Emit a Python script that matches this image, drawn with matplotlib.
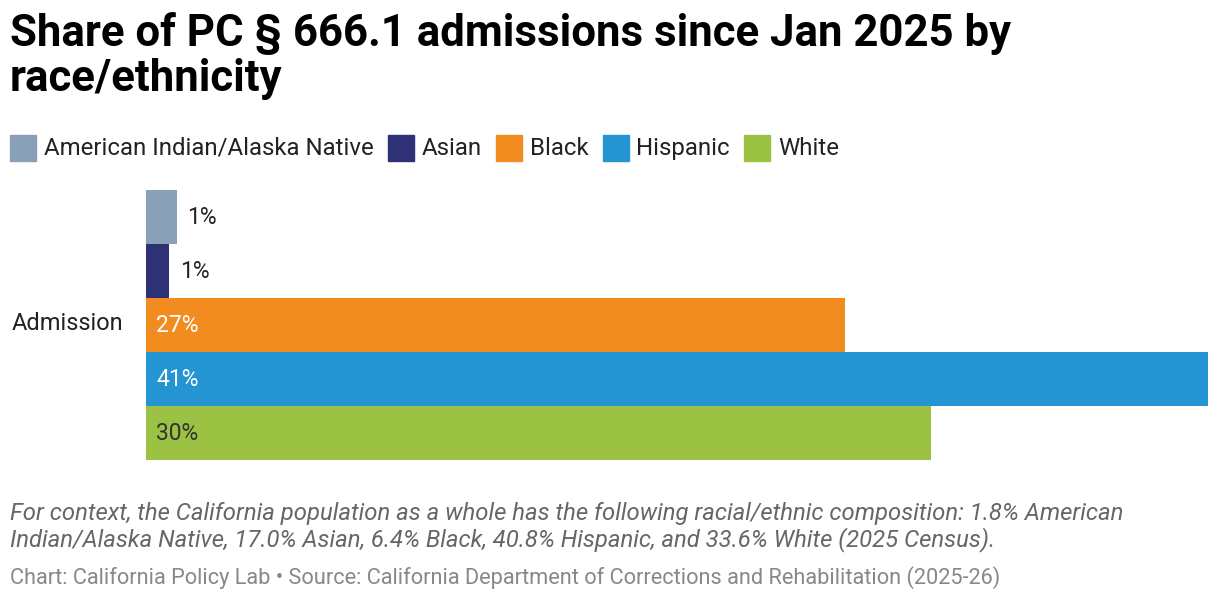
import matplotlib.pyplot as plt
from matplotlib.patches import Rectangle

plt.rcParams['font.family'] = ['Roboto', 'DejaVu Sans']

# data
groups = ['American Indian/Alaska Native', 'Asian', 'Black', 'Hispanic', 'White']
shares = [1.2, 0.9, 27.0, 41.0, 30.3]
colors = ['#8aa0b8', '#2e3175', '#f28c1f', '#2494d2', '#9bc242']
label_colors = ['#222222', '#222222', 'white', 'white', '#333333']

fig = plt.figure(figsize=(12.2, 6.02), dpi=100)

# title
fig.text(10/1220, 1 - 12/602, 'Share of PC § 666.1 admissions since Jan 2025 by\nrace/ethnicity',
         fontsize=31.5, fontweight='bold', va='top', ha='left', linespacing=1.1)

# legend
lx = 10
for g, c in zip(groups, colors):
    fig.patches.append(Rectangle((lx/1220, 1 - 161/602), 26/1220, 26/602,
                                 transform=fig.transFigure, color=c))
    t = fig.text((lx + 34)/1220, 1 - 148/602, g, fontsize=17.3, va='center', ha='left', color='#222222')
    fig.canvas.draw()
    bb = t.get_window_extent()
    lx = bb.x1 + 14

ax = fig.add_axes([146/1220, 1 - 460/602, 1062/1220, 270/602])
ypos = list(range(len(groups)))
ax.barh(ypos, shares, height=1.0, color=colors)
ax.set_xlim(0, max(shares))
ax.set_ylim(len(groups) - 0.5, -0.5)
for y, v, lc in zip(ypos, shares, label_colors):
    if v < 5:
        ax.text(v + 0.4, y, f'{v:.0f}%', va='center', ha='left', fontsize=16.5, color=lc)
    else:
        ax.text(0.4, y, f'{v:.0f}%', va='center', ha='left', fontsize=16.5, color=lc)
ax.axis('off')
fig.text(12/1220, 1 - 324/602, 'Admission', fontsize=17, va='center', ha='left', color='#222222')

# footer
fig.text(10/1220, 1 - 502/602,
         'For context, the California population as a whole has the following racial/ethnic composition: 1.8% American\n'
         'Indian/Alaska Native, 17.0% Asian, 6.4% Black, 40.8% Hispanic, and 33.6% White (2025 Census).',
         fontsize=17.2, style='italic', color='#666666', va='top', ha='left', linespacing=1.1)
fig.text(10/1220, 1 - 578/602,
         'Chart: California Policy Lab • Source: California Department of Corrections and Rehabilitation (2025-26)',
         fontsize=15.7, color='#888888', va='center', ha='left')

fig.savefig('out.png', dpi=100)
